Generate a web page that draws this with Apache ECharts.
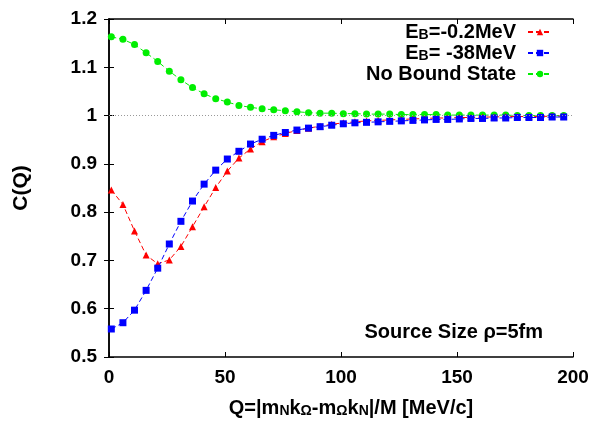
<!DOCTYPE html>
<html>
<head>
<meta charset="utf-8">
<script src="https://cdn.jsdelivr.net/npm/echarts@6/dist/echarts.min.js"></script>
<style>
  html, body { margin: 0; padding: 0; background: #fff; }
  #chart { width: 594px; height: 421px; }
</style>
</head>
<body>
<div id="chart"></div>
<script>
// Q values (MeV/c)
var qValues = [1, 6, 11, 16, 21, 26, 31, 36, 41, 46, 51, 56, 61, 66, 71, 76, 81, 86, 91, 96,
    101, 106, 111, 116, 121, 126, 131, 136, 141, 146, 151, 156, 161, 166, 171, 176, 181, 186, 191, 196];
// E_B = -0.2 MeV
var cWeak = [0.846, 0.816, 0.761, 0.711, 0.693, 0.701, 0.729, 0.770, 0.811, 0.851,
    0.885, 0.912, 0.931, 0.946, 0.956, 0.963, 0.969, 0.974, 0.978, 0.982,
    0.985, 0.987, 0.989, 0.990, 0.991, 0.992, 0.993, 0.994, 0.995, 0.995,
    0.996, 0.996, 0.997, 0.997, 0.998, 0.998, 0.998, 0.998, 0.999, 0.999];
// E_B = -38 MeV
var cDeep = [0.558, 0.571, 0.597, 0.638, 0.684, 0.734, 0.781, 0.823, 0.858, 0.887,
    0.910, 0.926, 0.941, 0.951, 0.959, 0.965, 0.970, 0.974, 0.977, 0.980,
    0.983, 0.985, 0.986, 0.987, 0.988, 0.989, 0.990, 0.991, 0.992, 0.992,
    0.993, 0.994, 0.994, 0.995, 0.995, 0.996, 0.996, 0.996, 0.997, 0.997];
// no bound state
var cNone = [1.163, 1.158, 1.147, 1.130, 1.112, 1.092, 1.074, 1.058, 1.045, 1.035,
    1.028, 1.021, 1.017, 1.014, 1.012, 1.010, 1.008, 1.006, 1.005, 1.005,
    1.004, 1.004, 1.003, 1.003, 1.003, 1.002, 1.002, 1.002, 1.002, 1.001,
    1.001, 1.001, 1.001, 1.001, 1.001, 1.000, 1.000, 1.000, 1.000, 1.000];
var seriesNames = ['EB02', 'EB38', 'None'];
var legendLabels = {
    EB02: '{t|E}{s|B}{t|=-0.2MeV}',
    EB38: '{t|E}{s|B}{t|= -38MeV}',
    None: '{t|No Bound State}'
};
var xTicks = [0, 200, 50];
var yTicks = [0.5, 1.2, 0.1];

var FONT = 'Liberation Sans';

function pairs(ys) {
    var out = [];
    for (var i = 0; i < ys.length; i++) {
        out.push([qValues[i], ys[i]]);
    }
    return out;
}

// subscripts: t sits at the top of a slightly taller line, s at the bottom
var subStyle = {
    t: { fontFamily: FONT, fontWeight: 'bold', fontSize: 20, color: '#000',
        lineHeight: 20, padding: [0, 0, 4, 0], verticalAlign: 'top' },
    s: { fontFamily: FONT, fontWeight: 'bold', fontSize: 14, color: '#000',
        lineHeight: 14, verticalAlign: 'bottom' }
};

var chart = echarts.init(document.getElementById('chart'));
chart.setOption({
    backgroundColor: '#fff',
    animation: false,
    grid: { left: 109, right: 21, top: 19, bottom: 64, outerBoundsMode: 'none' },
    legend: {
        data: seriesNames,
        orient: 'vertical',
        align: 'right',
        right: 36,
        top: 17,
        itemWidth: 24,
        itemHeight: 8,
        itemGap: -3,
        formatter: function (name) { return legendLabels[name]; },
        textStyle: { padding: [0, 7, 0, 0], rich: subStyle }
    },
    xAxis: [{
        type: 'value',
        min: xTicks[0], max: xTicks[1], interval: xTicks[2],
        name: '{t|Q=|m}{s|N}{t|k}{s|Ω}{t|-m}{s|Ω}{t|k}{s|N}{t||/M [MeV/c]}',
        nameLocation: 'middle',
        nameGap: 41,
        nameTextStyle: { padding: [0, 0, 0, 20], rich: subStyle },
        axisLine: { lineStyle: { color: '#000', width: 1.5 } },
        axisTick: { inside: true, length: 5, lineStyle: { color: '#000' } },
        axisLabel: { margin: 11, color: '#000', fontFamily: FONT, fontWeight: 'bold', fontSize: 19 },
        splitLine: { show: false }
    }, {
        type: 'value', position: 'top',
        min: xTicks[0], max: xTicks[1], interval: xTicks[2],
        axisLine: { show: true, lineStyle: { color: '#000', width: 1.5 } },
        axisTick: { inside: true, length: 5, lineStyle: { color: '#000' } },
        axisLabel: { show: false },
        splitLine: { show: false }
    }],
    yAxis: [{
        type: 'value',
        min: yTicks[0], max: yTicks[1], interval: yTicks[2],
        name: 'C(Q)',
        nameLocation: 'middle',
        nameGap: 77,
        nameTextStyle: { color: '#000', fontFamily: FONT, fontWeight: 'bold', fontSize: 21 },
        axisLine: { show: true, lineStyle: { color: '#000', width: 1.5 } },
        axisTick: { show: true, inside: true, length: 5, lineStyle: { color: '#000' } },
        axisLabel: { margin: 12, color: '#000', fontFamily: FONT, fontWeight: 'bold', fontSize: 19 },
        splitLine: { show: false }
    }, {
        type: 'value', position: 'right',
        min: yTicks[0], max: yTicks[1], interval: yTicks[2],
        axisLine: { show: true, lineStyle: { color: '#000', width: 1.5 } },
        axisTick: { show: true, inside: true, length: 5, lineStyle: { color: '#000' } },
        axisLabel: { show: false },
        splitLine: { show: false }
    }],
    graphic: [{
        type: 'text',
        right: 51,
        top: 322,
        style: { text: 'Source Size ρ=5fm', font: 'bold 20px "Liberation Sans"', fill: '#000' }
    }],
    series: [{
        name: 'EB02',
        type: 'line',
        data: pairs(cWeak),
        symbol: 'triangle',
        symbolSize: 7,
        itemStyle: { color: '#ff0000' },
        lineStyle: { color: '#ff0000', width: 1, type: [5, 3] }
    }, {
        name: 'EB38',
        type: 'line',
        data: pairs(cDeep),
        symbol: 'rect',
        symbolSize: 7,
        itemStyle: { color: '#0000ff' },
        lineStyle: { color: '#0000ff', width: 1, type: [5, 3] }
    }, {
        name: 'None',
        type: 'line',
        data: pairs(cNone),
        symbol: 'circle',
        symbolSize: 7,
        itemStyle: { color: '#00ee00' },
        lineStyle: { color: '#00ee00', width: 1, type: [5, 3] },
        markLine: {
            silent: true,
            symbol: 'none',
            label: { show: false },
            lineStyle: { color: '#999', type: [1, 2], width: 1 },
            data: [{ yAxis: 1 }]
        },
        z: 1
    }]
});
</script>
</body>
</html>
